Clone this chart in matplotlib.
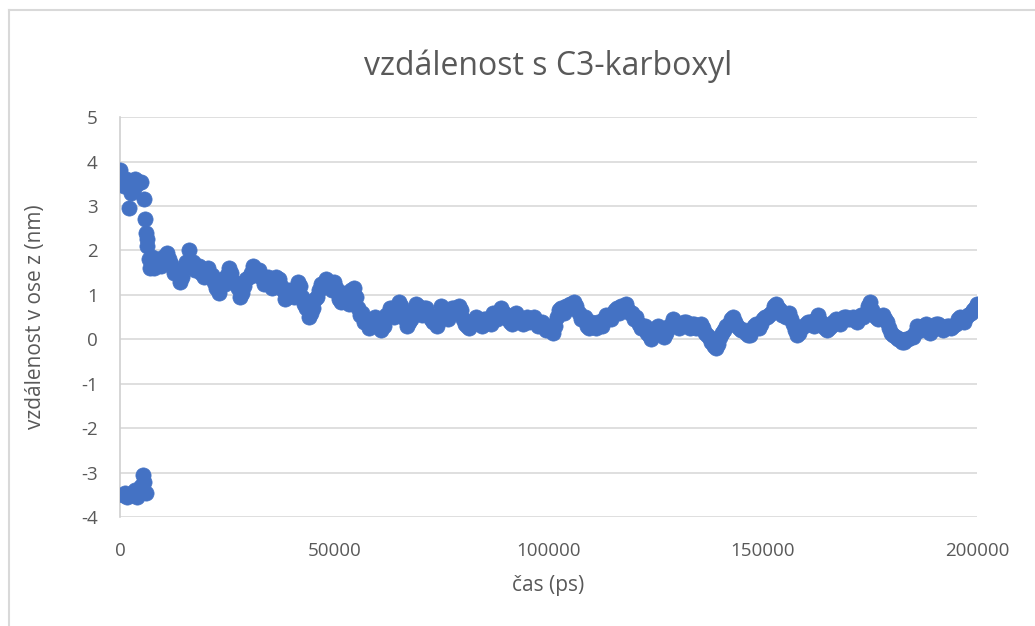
import matplotlib
matplotlib.use("Agg")
import matplotlib.pyplot as plt
from matplotlib.lines import Line2D

plt.rcParams['font.family'] = ['Open Sans', 'DejaVu Sans']

# start of the run (ps, nm)
t_start = [0, 300, 600, 1000, 1500, 2000, 2500, 2800, 3200, 3600, 4000, 4500,
           5000, 5500, 5800, 6000, 6200, 6400, 6700, 7000, 7500]
z_start = [3.8, 3.55, 3.5, 3.45, 3.6, 2.95, 3.3, 3.55, 3.4, 3.6, 3.5, 3.55,
           3.55, 3.15, 2.7, 2.4, 2.25, 2.1, 1.8, 1.6, 1.85]

# flipped cluster near the start
t_neg = [800, 1200, 1600, 2200, 3000, 3500, 4000, 4500, 5000, 5300, 5600, 6000]
z_neg = [-3.5, -3.45, -3.55, -3.5, -3.5, -3.4, -3.55, -3.45, -3.3, -3.05, -3.2, -3.45]

# rest of trajectory, every 1000 ps from 8000 to 200000
z_main = [
    1.6, 1.75,
    1.85, 1.95, 1.7, 1.55, 1.3, 1.6, 2.0, 1.75, 1.6, 1.5,
    1.55, 1.4, 1.3, 1.05, 1.35, 1.45, 1.5, 1.25, 0.95, 1.2,
    1.4, 1.65, 1.55, 1.4, 1.35, 1.25, 1.3, 1.35, 1.1, 0.95,
    1.05, 1.15, 1.2, 0.8, 0.5, 0.7, 0.95, 1.25, 1.35, 1.2,
    1.3, 0.9, 1.05, 0.85, 1.1, 0.95, 0.55, 0.4, 0.25, 0.45,
    0.3, 0.2, 0.55, 0.7, 0.5, 0.85, 0.6, 0.3, 0.45, 0.8,
    0.65, 0.7, 0.55, 0.4, 0.3, 0.75, 0.5, 0.6, 0.7, 0.75,
    0.45, 0.3, 0.4, 0.5, 0.35, 0.45, 0.4, 0.6, 0.45, 0.7,
    0.55, 0.4, 0.5, 0.45, 0.35, 0.5, 0.45, 0.4, 0.35, 0.3,
    0.3, 0.15, 0.5, 0.7, 0.75, 0.8, 0.85, 0.6, 0.45, 0.3,
    0.4, 0.25, 0.35, 0.45, 0.5, 0.6, 0.7, 0.75, 0.8, 0.6,
    0.45, 0.35, 0.3, 0.15, 0.0, 0.25, 0.2, 0.05, 0.3, 0.45,
    0.35, 0.3, 0.4, 0.25, 0.35, 0.3, 0.25, 0.1, -0.05, -0.2,
    0.05, 0.2, 0.35, 0.5, 0.3, 0.2, 0.15, 0.1, 0.3, 0.25,
    0.45, 0.5, 0.6, 0.8, 0.65, 0.55, 0.6, 0.35, 0.1, 0.25,
    0.35, 0.4, 0.3, 0.55, 0.3, 0.2, 0.3, 0.45, 0.35, 0.5,
    0.45, 0.5, 0.4, 0.55, 0.6, 0.85, 0.55, 0.45, 0.55, 0.4,
    0.15, 0.05, 0.0, -0.05, 0.0, 0.05, 0.3, 0.2, 0.35, 0.15,
    0.3, 0.35, 0.2, 0.3, 0.25, 0.35, 0.5, 0.4, 0.55, 0.65,
    0.8,
]
t_main = list(range(8000, 8000 + 1000 * len(z_main), 1000))

# samples in between, every 1000 ps from 8500
z_mid = [
    1.8, 1.65,
    1.75, 1.8, 1.5, 1.5, 1.4, 1.75, 1.7, 1.55, 1.65, 1.4,
    1.6, 1.45, 1.15, 1.25, 1.25, 1.6, 1.3, 1.15, 1.05, 1.35,
    1.5, 1.45, 1.55, 1.25, 1.4, 1.15, 1.4, 1.2, 0.9, 1.1,
    0.95, 1.3, 0.95, 0.7, 0.6, 0.9, 1.1, 1.2, 1.3, 1.1,
    1.15, 0.85, 1.0, 0.8, 1.15, 0.7, 0.6, 0.4, 0.3, 0.5,
    0.35, 0.3, 0.55, 0.7, 0.6, 0.75, 0.45, 0.4, 0.65, 0.75,
    0.55, 0.7, 0.45, 0.4, 0.55, 0.6, 0.45, 0.7, 0.6, 0.65,
    0.35, 0.25, 0.4, 0.45, 0.3, 0.45, 0.35, 0.55, 0.6, 0.6,
    0.45, 0.35, 0.6, 0.4, 0.45, 0.4, 0.5, 0.3, 0.4, 0.2,
    0.25, 0.3, 0.65, 0.6, 0.7, 0.7, 0.75, 0.45, 0.5, 0.25,
    0.35, 0.4, 0.3, 0.55, 0.45, 0.65, 0.6, 0.7, 0.65, 0.6,
    0.5, 0.25, 0.3, 0.1, 0.15, 0.3, 0.15, 0.15, 0.3, 0.4,
    0.25, 0.4, 0.3, 0.35, 0.25, 0.35, 0.15, 0.05, -0.15, -0.1,
    0.15, 0.3, 0.45, 0.4, 0.25, 0.2, 0.1, 0.2, 0.35, 0.35,
    0.5, 0.55, 0.75, 0.7, 0.55, 0.5, 0.45, 0.2, 0.15, 0.3,
    0.4, 0.35, 0.45, 0.4, 0.25, 0.25, 0.4, 0.4, 0.45, 0.5,
    0.45, 0.45, 0.5, 0.5, 0.75, 0.65, 0.5, 0.5, 0.45, 0.25,
    0.1, 0.0, -0.05, 0.0, 0.05, 0.15, 0.25, 0.3, 0.25, 0.2,
    0.35, 0.25, 0.25, 0.3, 0.3, 0.45, 0.45, 0.5, 0.6, 0.7,
]
t_mid = list(range(8500, 8500 + 1000 * len(z_mid), 1000))

x_ticks = [0, 50000, 100000, 150000, 200000]
y_ticks = [-4, -3, -2, -1, 0, 1, 2, 3, 4, 5]

fig = plt.figure(figsize=(10.35, 6.26), dpi=100)
ax = fig.add_axes([0.116, 0.174, 0.828, 0.639])

blue = '#4472C4'
grey = '#595959'
for t, z in [(t_start, z_start), (t_neg, z_neg), (t_main, z_main), (t_mid, z_mid)]:
    ax.scatter(t, z, s=120, color=blue, edgecolors=blue, linewidths=0.5, zorder=3)

ax.set_xlim(0, 200000)
ax.set_ylim(-4, 5)
ax.set_xticks(x_ticks)
ax.set_yticks(y_ticks)
ax.set_xticklabels([str(v) for v in x_ticks])
ax.set_yticklabels([str(v) for v in y_ticks])
ax.grid(axis='y', color='#d9d9d9', linewidth=1.2, zorder=0)
for side in ['top', 'right', 'bottom']:
    ax.spines[side].set_visible(False)
ax.spines['left'].set_color('#d0d0d0')
ax.spines['left'].set_linewidth(1.2)
ax.tick_params(length=0, labelsize=13.5, colors=grey)
ax.tick_params(axis='y', pad=16)
ax.tick_params(axis='x', pad=18)

ax.set_title('vzdálenost s C3-karboxyl', fontsize=23, color=grey, pad=30)
ax.set_xlabel('čas (ps)', fontsize=15, color=grey, va='center')
ax.set_ylabel('vzdálenost v ose z (nm)', fontsize=15, color=grey, va='center')
ax.xaxis.set_label_coords(0.5, -0.17)
ax.yaxis.set_label_coords(-0.099, 0.5)

# chart frame (only left and top edges visible in the crop)
fig.add_artist(Line2D([9 / 1035, 9 / 1035], [0, 1 - 10 / 626], transform=fig.transFigure,
                      color='#d9d9d9', linewidth=1.5))
fig.add_artist(Line2D([9 / 1035, 1], [1 - 10 / 626, 1 - 10 / 626], transform=fig.transFigure,
                      color='#d9d9d9', linewidth=1.5))

fig.savefig('out.png', dpi=100)
